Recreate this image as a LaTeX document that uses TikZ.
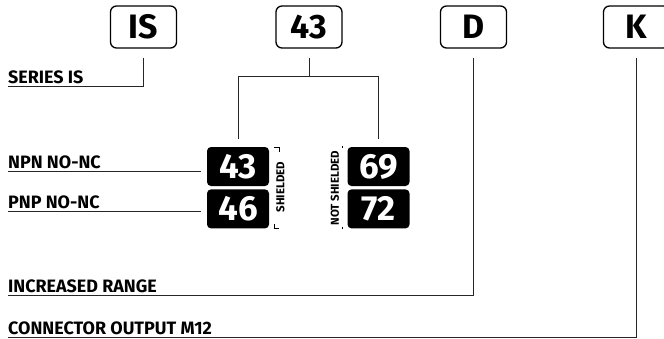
\documentclass[tikz,border=0pt]{standalone}
\usepackage{fontspec}
\setmainfont{Fira Sans}
\usetikzlibrary{calc,positioning}
\tikzset{
  codebox/.style  = {draw,line width=1.3bp,rounded corners=6bp,minimum width=66bp,
                     minimum height=42bp,inner sep=0pt,font=\bfseries\fontsize{34}{34}\selectfont},
  optbox/.style   = {fill=black,text=white,rounded corners=4bp,minimum width=62bp,
                     minimum height=39bp,inner sep=0pt,font=\bfseries\fontsize{35}{35}\selectfont},
  lbl/.style      = {anchor=south west,inner xsep=0pt,inner ysep=2.5bp,
                     font=\bfseries\fontsize{18}{18}\selectfont},
  sidelbl/.style  = {rotate=90,inner sep=0pt,font=\bfseries\fontsize{11.5}{11.5}\selectfont},
  leadline/.style = {line width=0.9bp,black!85}
}
\begin{document}
\begin{tikzpicture}[x=1bp,y=-1bp]
  \useasboundingbox (0,0) rectangle (664,338);
  % --- code letters along the top
  \node[codebox] (codeIS) at (143.5,27) {IS};
  \node[codebox] (code43) at (309,27)   {43};
  \node[codebox] (codeD)  at (473.5,27) {D};
  \node[codebox] (codeK)  at (636.5,27) {K};
  % --- output options
  \node[optbox] (box43) at (238,166.5) {43};
  \node[optbox,below=3bp of box43] (box46) {46};
  \node[optbox] (box69) at (378.5,166.5) {69};
  \node[optbox,below=3bp of box69] (box72) {72};
  \node[sidelbl] (shield)   at (280.5,187) {SHIELDED};
  \node[sidelbl] (noshield) at (335,188)   {NOT SHIELDED};
  \draw[line width=0.8bp] (274,147) -- (279,147) -- (279,152);
  \draw[line width=0.8bp] (274,224) -- (274,228) -- (279,228);
  \draw[line width=0.8bp] (342,145.5) -- (342,147.5);
  \draw[line width=0.8bp] (342,227) -- (342,229);
  % --- labels on the left
  \node[lbl] (lblSeries) at (8,86)  {SERIES IS};
  \node[lbl] (lblNPN)    at (8,171) {NPN NO-NC};
  \node[lbl] (lblPNP)    at (8,211) {PNP NO-NC};
  \node[lbl] (lblRange)  at (8,295) {INCREASED RANGE};
  \node[lbl] (lblM12)    at (8,337) {CONNECTOR OUTPUT M12};
  % --- leader lines
  \draw[leadline] ([yshift=-9bp]codeIS.south) |- (lblSeries.south west);
  \draw[leadline] ([yshift=-9bp]code43.south) -- ++(0,19) coordinate (fork);
  \draw[leadline] ([yshift=8bp]box43.north) |- (fork) -| ([yshift=8bp]box69.north);
  \draw[leadline] (lblNPN.south west) -- ($(box43.west |- lblNPN.south west)+(-6,0)$);
  \draw[leadline] (lblPNP.south west) -- ($(box46.west |- lblPNP.south west)+(-6,0)$);
  \draw[leadline] ([yshift=-9bp]codeD.south) |- (lblRange.south west);
  \draw[leadline] ([yshift=-9bp]codeK.south) |- (lblM12.south west);
\end{tikzpicture}
\end{document}
